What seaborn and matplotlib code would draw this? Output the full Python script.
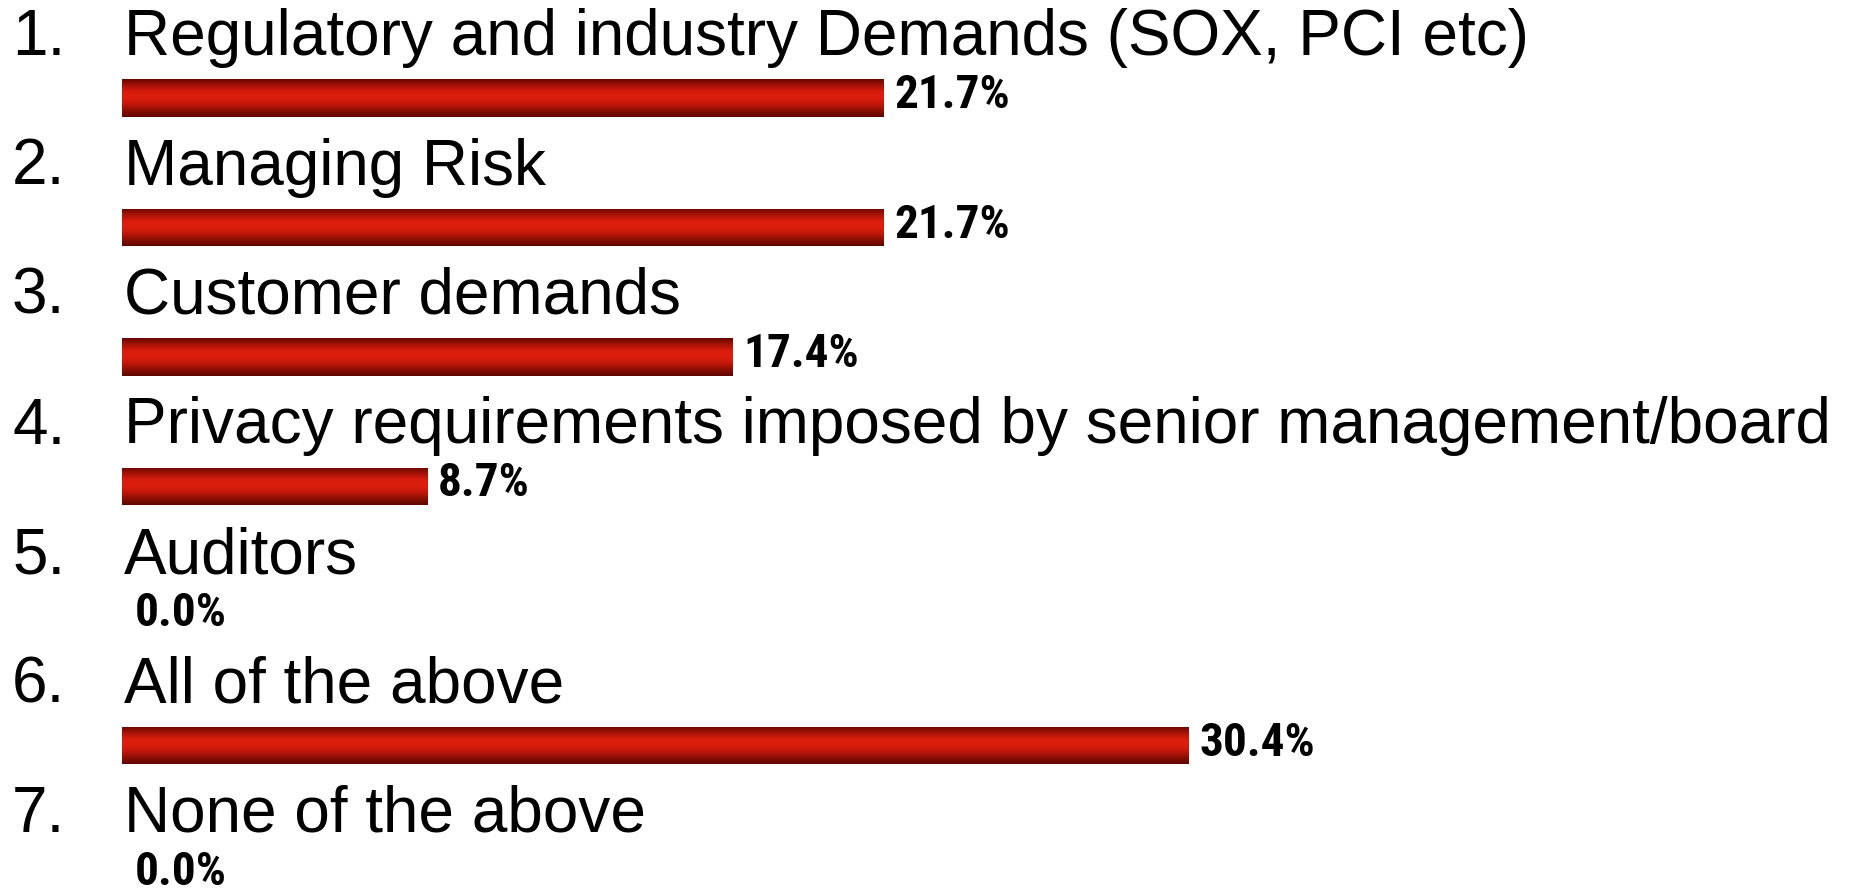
import numpy as np
import pandas as pd
import matplotlib
matplotlib.use("Agg")
import matplotlib.pyplot as plt
from matplotlib.colors import LinearSegmentedColormap
import seaborn as sns

# Survey responses: drivers for the privacy programme
numbers = ["1.", "2.", "3.", "4.", "5.", "6.", "7."]
answers = [
    "Regulatory and industry Demands (SOX, PCI etc)",
    "Managing Risk",
    "Customer demands",
    "Privacy requirements imposed by senior management/board",
    "Auditors",
    "All of the above",
    "None of the above",
]
shares = [21.7, 21.7, 17.4, 8.7, 0.0, 30.4, 0.0]

df = pd.DataFrame({"answer": answers, "share": shares, "row": range(len(answers))})

sns.set_theme(style="white")
plt.rcParams["font.family"] = ["Liberation Sans", "DejaVu Sans"]
value_family = ["Roboto Condensed", "Liberation Sans Narrow", "Roboto", "DejaVu Sans"]

W, H, DPI = 1854, 891, 100
fig = plt.figure(figsize=(W / DPI, H / DPI), dpi=DPI)
ax = fig.add_axes([0, 0, 1, 1])

px_per_pct = 35.08
x0_px = 122
row0_px, row_step = 98, 129.5

sns.barplot(data=df, x="share", y="row", orient="h",
            color="#d81c0c", width=38 / row_step, ax=ax, native_scale=True,
            linewidth=0)

# vertical dark-bright-dark shading on every bar
shade = LinearSegmentedColormap.from_list(
    "shade", ["#650800", "#a51207", "#d91d0d", "#dc1e0e", "#c0170a", "#8a0e04", "#5e0600"])
grad = np.linspace(0, 1, 256).reshape(-1, 1)
for patch in ax.patches:
    x, y = patch.get_x(), patch.get_y()
    w, h = patch.get_width(), patch.get_height()
    if w <= 0:
        continue
    im = ax.imshow(grad, cmap=shade, aspect="auto", interpolation="bicubic",
                   extent=(x, x + w, y + h, y), zorder=3)
    im.set_clip_path(patch)
    patch.set_facecolor("none")

ax.set_xlim(-x0_px / px_per_pct, (W - x0_px) / px_per_pct)
ax.set_ylim((H - row0_px) / row_step, -row0_px / row_step)
ax.set_axis_off()

for i, (num, ans, val) in enumerate(zip(numbers, answers, shares)):
    ty = i - 43 / row_step
    ax.text(-110 / px_per_pct, ty, num, fontsize=46, va="baseline", ha="left", color="black")
    ax.text(2 / px_per_pct, ty, ans, fontsize=46, va="baseline", ha="left", color="black")
    ax.text(val + (11 if val > 0 else 13) / px_per_pct, i - 3 / row_step, f"{val:.1f}%",
            fontsize=34, fontweight="bold", family=value_family,
            va="center", ha="left", color="black", zorder=4)

fig.savefig("out.png", dpi=DPI)
